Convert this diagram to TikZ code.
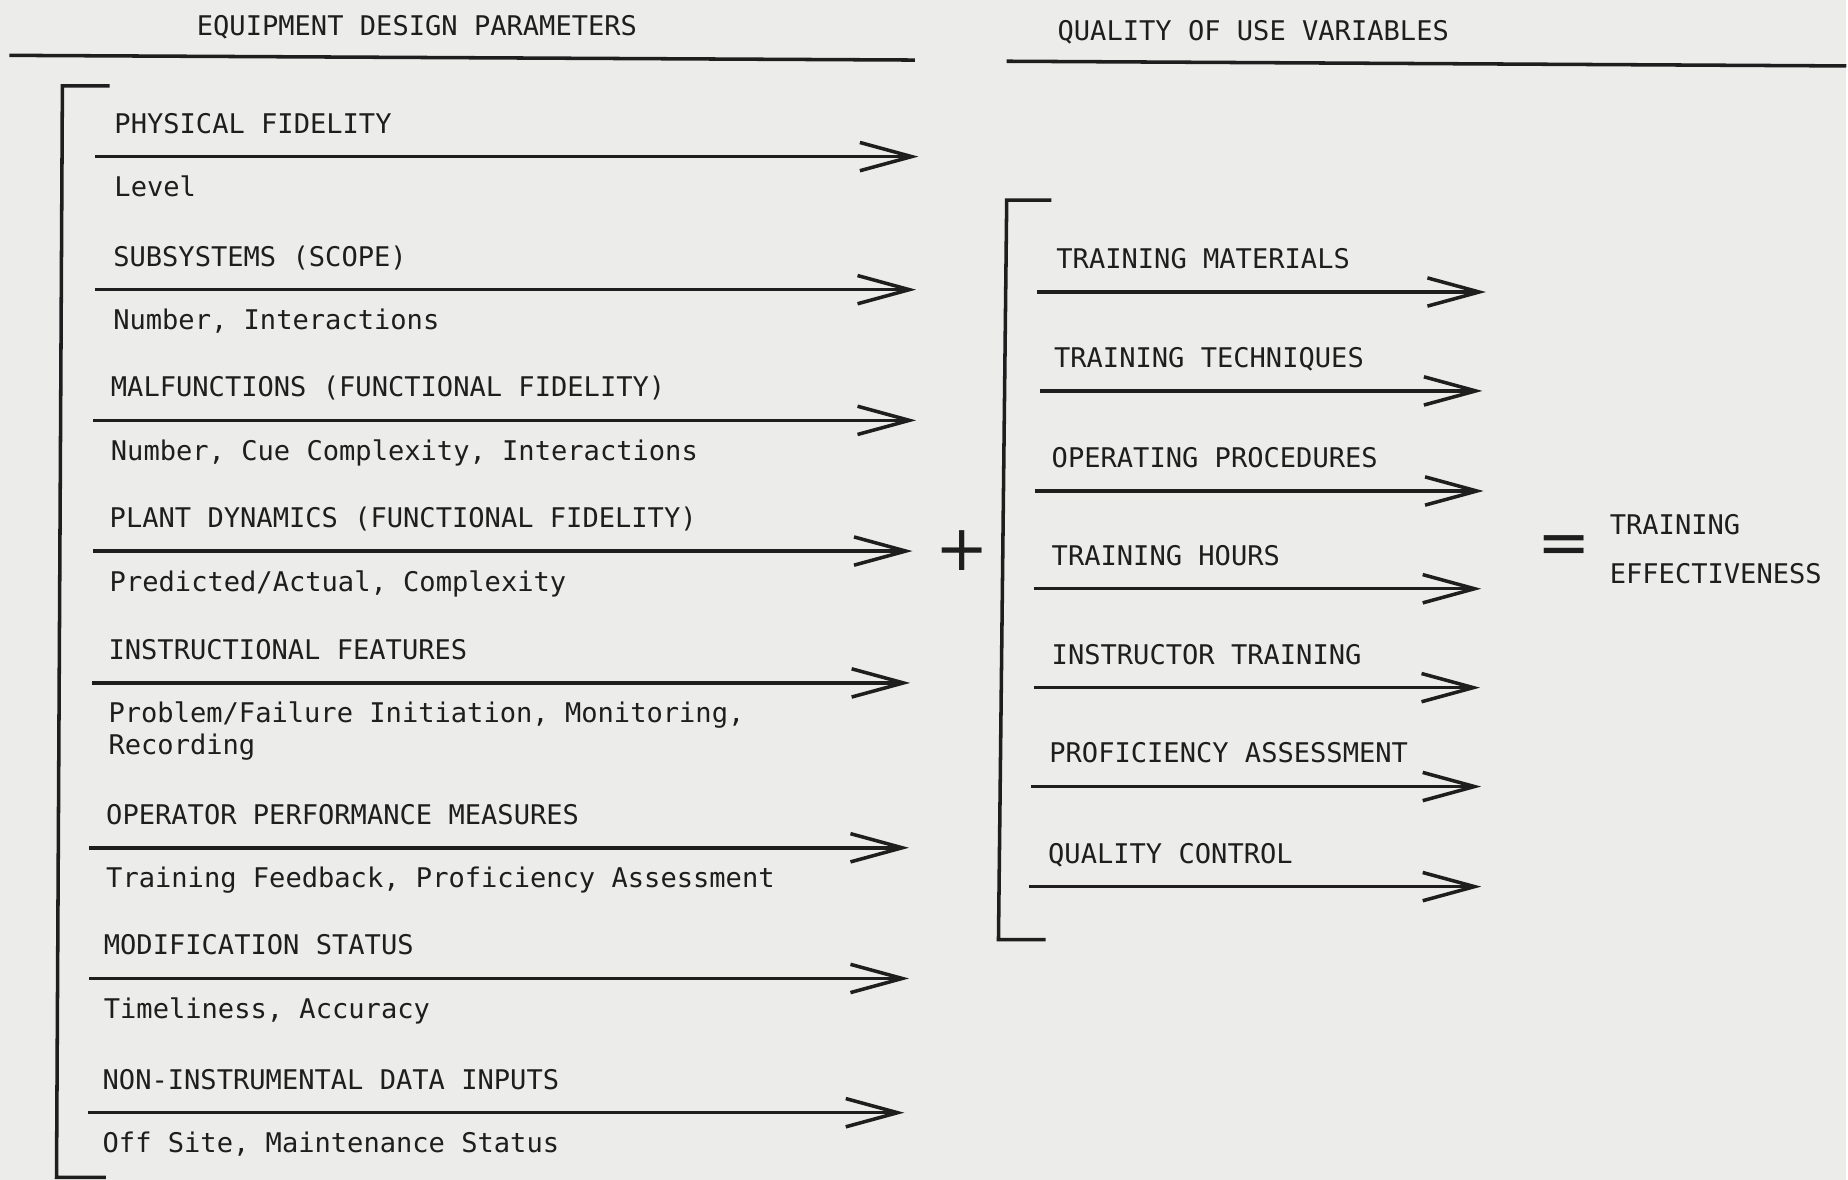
\documentclass[tikz,border=0pt]{standalone}
\usepackage{fontspec}
\setmonofont{DejaVu Sans Mono}
\newfontfamily\signfont{DejaVu Sans}
\usetikzlibrary{arrows.meta}
\definecolor{paper}{RGB}{236,236,234}
\definecolor{ink}{RGB}{30,30,30}

\begin{document}
\begin{tikzpicture}[
    x=1pt, y=-1pt,
    param/.style={anchor=base west, inner sep=0pt, text=ink, align=left, font=\ttfamily\fontsize{23}{27}\selectfont},
    sign/.style={inner sep=0pt, text=ink, font=\signfont\fontsize{54}{54}\selectfont},
    arrow/.style={draw=ink, line width=3pt, -{Straight Barb[length=44pt, width=24pt]}},
    rule/.style={draw=ink, line width=3pt}
]

% Paper
\fill[paper] (0,0) rectangle (1568,1002);

% Headings
\node[param] (equip) at (167,30) {EQUIPMENT DESIGN PARAMETERS};
\node[param] (quality) at (898,34) {QUALITY OF USE VARIABLES};
\draw[rule] (8,47) -- (777,51);
\draw[rule] (855,52) -- (1568,56);

% Brackets
\draw[rule] (93,73) -- (53,73) -- (48,1000) -- (90,1000);
\draw[rule] (893,170) -- (855,170) -- (848,798) -- (888,798);

% Physical fidelity
\node[param] (phys) at (97,113) {PHYSICAL FIDELITY};
\node[param] (phys-d) at (97,167) {Level};
\coordinate (phys-in) at (81,133);
\coordinate (phys-out) at (780,133);

% Subsystems
\node[param] (subsys) at (96,226) {SUBSYSTEMS (SCOPE)};
\node[param] (subsys-d) at (96,280) {Number, Interactions};
\coordinate (subsys-in) at (81,246);
\coordinate (subsys-out) at (778,246);

% Malfunctions
\node[param] (malf) at (94,337) {MALFUNCTIONS (FUNCTIONAL FIDELITY)};
\node[param] (malf-d) at (94,391) {Number, Cue Complexity, Interactions};
\coordinate (malf-in) at (79,357);
\coordinate (malf-out) at (778,357);

% Plant dynamics
\node[param] (plant) at (93,448) {PLANT DYNAMICS (FUNCTIONAL FIDELITY)};
\node[param] (plant-d) at (93,502) {Predicted/Actual, Complexity};
\coordinate (plant-in) at (79,468);
\coordinate (plant-out) at (775,468);

% Instructional features (base sits on the last line)
\node[param] (instr) at (92,560) {INSTRUCTIONAL FEATURES};
\node[param] (instr-d) at (92,641) {Problem/Failure Initiation, Monitoring,\\Recording};
\coordinate (instr-in) at (78,580);
\coordinate (instr-out) at (773,580);

% Performance measures
\node[param] (perf) at (90,700) {OPERATOR PERFORMANCE MEASURES};
\node[param] (perf-d) at (90,754) {Training Feedback, Proficiency Assessment};
\coordinate (perf-in) at (76,720);
\coordinate (perf-out) at (772,720);

% Modification status
\node[param] (mod) at (88,811) {MODIFICATION STATUS};
\node[param] (mod-d) at (88,865) {Timeliness, Accuracy};
\coordinate (mod-in) at (76,831);
\coordinate (mod-out) at (772,831);

% Data inputs
\node[param] (data) at (87,925) {NON-INSTRUMENTAL DATA INPUTS};
\node[param] (data-d) at (87,979) {Off Site, Maintenance Status};
\coordinate (data-in) at (75,945);
\coordinate (data-out) at (768,945);

% Quality of use variables
\node[param] (mat) at (897,228) {TRAINING MATERIALS};
\coordinate (mat-in) at (881,248);
\coordinate (mat-out) at (1262,248);
\node[param] (tech) at (895,312) {TRAINING TECHNIQUES};
\coordinate (tech-in) at (883,332);
\coordinate (tech-out) at (1259,332);
\node[param] (proc) at (893,397) {OPERATING PROCEDURES};
\coordinate (proc-in) at (879,417);
\coordinate (proc-out) at (1260,417);
\node[param] (hours) at (893,480) {TRAINING HOURS};
\coordinate (hours-in) at (878,500);
\coordinate (hours-out) at (1258,500);
\node[param] (inst) at (893,564) {INSTRUCTOR TRAINING};
\coordinate (inst-in) at (878,584);
\coordinate (inst-out) at (1257,584);
\node[param] (prof) at (891,648) {PROFICIENCY ASSESSMENT};
\coordinate (prof-in) at (876,668);
\coordinate (prof-out) at (1258,668);
\node[param] (qc) at (890,733) {QUALITY CONTROL};
\coordinate (qc-in) at (874,753);
\coordinate (qc-out) at (1258,753);

% Sum and result
\node[sign] (plus) at (817,467.5) {+};
\node[sign] (equals) at (1328.5,467) {=};
\node[param] (result) at (1367,454) {TRAINING};
\node[param] (result-b) at (1367,495.5) {EFFECTIVENESS};

% Arrows
\draw[arrow] (phys-in) -- (phys-out);
\draw[arrow] (subsys-in) -- (subsys-out);
\draw[arrow] (malf-in) -- (malf-out);
\draw[arrow] (plant-in) -- (plant-out);
\draw[arrow] (instr-in) -- (instr-out);
\draw[arrow] (perf-in) -- (perf-out);
\draw[arrow] (mod-in) -- (mod-out);
\draw[arrow] (data-in) -- (data-out);
\draw[arrow] (mat-in) -- (mat-out);
\draw[arrow] (tech-in) -- (tech-out);
\draw[arrow] (proc-in) -- (proc-out);
\draw[arrow] (hours-in) -- (hours-out);
\draw[arrow] (inst-in) -- (inst-out);
\draw[arrow] (prof-in) -- (prof-out);
\draw[arrow] (qc-in) -- (qc-out);

\end{tikzpicture}
\end{document}
